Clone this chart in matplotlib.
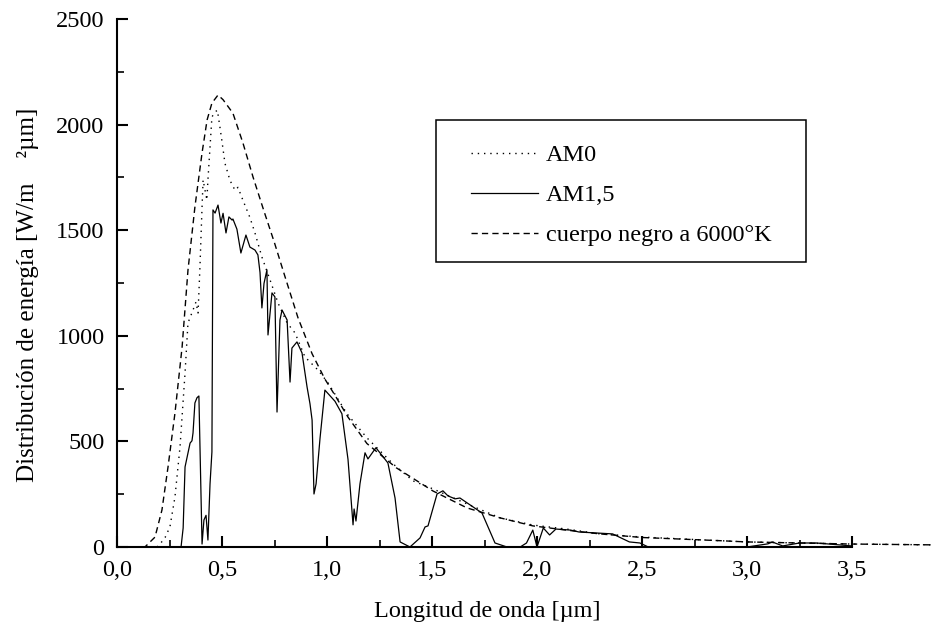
import matplotlib
matplotlib.use("Agg")
import matplotlib.pyplot as plt
from matplotlib.ticker import MultipleLocator, FixedLocator
from matplotlib.patches import Rectangle

plt.rcParams['font.family'] = ['Liberation Serif', 'DejaVu Serif']

# Blackbody 6000 K (dashed)
bb_x = [0.12, 0.133, 0.181, 0.214, 0.243, 0.276, 0.31, 0.338, 0.371, 0.405, 0.429, 0.452,
        0.481, 0.505, 0.552, 0.60, 0.648, 0.70, 0.75, 0.80, 0.862, 0.929, 0.99, 1.04,
        1.10, 1.19, 1.33, 1.505, 1.667, 1.824, 1.98, 2.14, 2.30, 2.50, 2.87, 3.00, 3.50, 3.90]
bb_y = [0, 0, 47, 175, 379, 634, 947, 1311, 1610, 1866, 2022, 2102,
        2140, 2118, 2054, 1912, 1751, 1590, 1440, 1280, 1085, 915, 795, 715,
        615, 490, 375, 265, 185, 138, 100, 80, 62, 45, 30, 24, 14, 10]

# AM0 (dotted)
am0_x = [0.19, 0.205, 0.229, 0.252, 0.276, 0.30, 0.324, 0.338, 0.362, 0.376, 0.386, 0.395,
         0.405, 0.41, 0.419, 0.428, 0.433, 0.443, 0.452, 0.467, 0.478, 0.49, 0.50, 0.514,
         0.538, 0.562, 0.576, 0.60, 0.633, 0.657, 0.69, 0.729, 0.767, 0.81, 0.848, 0.895,
         0.957, 1.005, 1.095, 1.19, 1.314, 1.41, 1.505, 1.667, 1.824, 1.98, 2.14, 2.30,
         2.50, 3.00, 3.50, 3.90]
am0_y = [0, 14, 45, 95, 237, 473, 824, 1061, 1122, 1160, 1108, 1326,
         1610, 1738, 1690, 1643, 1738, 1894, 2036, 2060, 2068, 1989, 1920, 1817,
         1736, 1689, 1703, 1641, 1560, 1487, 1373, 1264, 1155, 1061, 1013, 900,
         838, 777, 631, 517, 394, 313, 275, 204, 138, 104, 85, 62,
         47, 24, 14, 10]

# AM1.5 (solid)
am15_x = [0.305, 0.315, 0.324, 0.338, 0.348, 0.357, 0.362, 0.371, 0.381, 0.39, 0.405, 0.414,
          0.424, 0.433, 0.443, 0.452, 0.457, 0.467, 0.481, 0.495, 0.505, 0.519, 0.533, 0.548,
          0.552, 0.571, 0.59, 0.614, 0.633, 0.657, 0.671, 0.681, 0.69, 0.70, 0.714, 0.719,
          0.738, 0.752, 0.762, 0.776, 0.786, 0.81, 0.824, 0.833, 0.857, 0.881, 0.905, 0.919,
          0.929, 0.938, 0.948, 0.967, 0.99, 1.038, 1.071, 1.10, 1.124, 1.129, 1.138, 1.157,
          1.181, 1.195, 1.233, 1.29, 1.324, 1.348, 1.395, 1.443, 1.467, 1.481, 1.524, 1.552,
          1.576, 1.61, 1.633, 1.667, 1.738, 1.80, 1.857, 1.92, 1.95, 1.98, 2.0, 2.03,
          2.06, 2.09, 2.16, 2.20, 2.36, 2.44, 2.49, 2.53, 3.00, 3.10, 3.12, 3.17,
          3.25, 3.33, 3.44, 3.50]
am15_y = [0, 90, 379, 445, 492, 503, 540, 682, 707, 715, 14, 128,
          150, 33, 299, 450, 1596, 1581, 1619, 1534, 1580, 1487, 1563, 1548,
          1553, 1505, 1392, 1477, 1420, 1406, 1383, 1300, 1132, 1248, 1312, 1004,
          1203, 1184, 639, 1075, 1122, 1075, 781, 942, 971, 919, 758, 678,
          601, 251, 299, 517, 743, 690, 631, 415, 105, 180, 123, 299,
          446, 417, 470, 398, 232, 24, 0, 43, 95, 100, 251, 266,
          242, 228, 232, 209, 161, 19, 0, 0, 19, 80, 0, 90,
          57, 85, 80, 71, 62, 24, 19, 0, 0, 15, 24, 5,
          19, 19, 10, 5]

x_ticks = [0.0, 0.5, 1.0, 1.5, 2.0, 2.5, 3.0, 3.5]
x_ticklabels = ["0,0", "0,5", "1,0", "1,5", "2,0", "2,5", "3,0", "3,5"]
y_ticks = [0, 500, 1000, 1500, 2000, 2500]

FS = 17.5
W, H = 931, 637
fig = plt.figure(figsize=(W / 100, H / 100), dpi=100)
ax = fig.add_axes([117 / W, (H - 547) / H, 735 / W, 528 / H])

ax.plot(am0_x, am0_y, color='black', lw=1.0, linestyle=(0, (1, 3.5)), clip_on=False, label='AM0')
ax.plot(am15_x, am15_y, color='black', lw=0.9, linestyle='-', clip_on=False, label='AM1,5')
ax.plot(bb_x, bb_y, color='black', lw=1.0, linestyle=(0, (4.5, 3)), clip_on=False,
        label='cuerpo negro a 6000°K')

ax.set_xlim(0, 3.5)
ax.set_ylim(0, 2500)
ax.spines['top'].set_visible(False)
ax.spines['right'].set_visible(False)
for s in ('left', 'bottom'):
    ax.spines[s].set_linewidth(1.5)

ax.xaxis.set_major_locator(FixedLocator(x_ticks))
ax.set_xticklabels(x_ticklabels)
ax.xaxis.set_minor_locator(MultipleLocator(0.25))
ax.yaxis.set_major_locator(FixedLocator(y_ticks))
ax.yaxis.set_minor_locator(MultipleLocator(250))
ax.tick_params(which='major', direction='in', length=8, width=1.5, labelsize=FS)
ax.tick_params(which='minor', direction='in', length=5, width=1.2)
ax.tick_params(axis='x', which='major', pad=9)
ax.tick_params(axis='y', which='major', pad=9)

fig.text(487 / W, 1 - 611 / H, "Longitud de onda [µm]", ha='center', va='center', fontsize=FS)
fig.text(28 / W, 1 - 295 / H, "Distribución de energía [W/m    ²µm]", ha='center', va='center',
         rotation=90, fontsize=18)

# legend box
fig.patches.append(Rectangle((436 / W, 1 - 262 / H), 370 / W, 142 / H, transform=fig.transFigure,
                             fill=False, edgecolor='black', lw=1.1))
leg = ax.legend(loc='upper left', bbox_to_anchor=(471 / W, 1 - 144 / H),
                bbox_transform=fig.transFigure, frameon=False, fontsize=FS,
                handlelength=2.76, handletextpad=0.33, labelspacing=0.75, borderpad=0,
                borderaxespad=0)

fig.savefig("out.png", dpi=100)
